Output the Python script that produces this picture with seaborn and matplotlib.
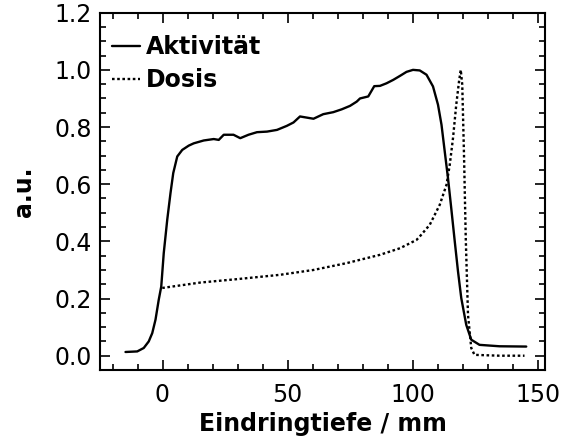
import matplotlib
matplotlib.use("Agg")
import matplotlib.pyplot as plt
import seaborn as sns
import pandas as pd
from matplotlib.ticker import MultipleLocator

# Aktivität (solid)
act_x = [-14.8, -10.1, -7.5, -5.5, -4.1, -2.8, -1.5, -0.5, 0.5, 1.9, 3.2, 4.3, 5.9, 7.9, 10.5,
         12.5, 16.5, 20.5, 22.5, 24.5, 28.4, 31.1, 34.4, 37.8, 41.8, 45.8, 49.7, 52.4, 55, 57.7,
         60.4, 64.3, 68.3, 71.7, 75, 77.7, 79, 82.3, 84.7, 87, 89.6, 92.3, 95, 97.6, 100.2,
         102.9, 105.6, 108.2, 110.2, 111.6, 112.9, 114.2, 115.5, 116.9, 118.2, 119.5, 121.5,
         123.5, 126.8, 134.8, 145.5]
act_y = [0.013, 0.015, 0.027, 0.05, 0.079, 0.126, 0.196, 0.242, 0.359, 0.476, 0.569, 0.639,
         0.697, 0.72, 0.735, 0.743, 0.753, 0.758, 0.755, 0.773, 0.773, 0.761, 0.773, 0.782,
         0.784, 0.79, 0.804, 0.816, 0.837, 0.833, 0.829, 0.845, 0.852, 0.862, 0.874, 0.889,
         0.90, 0.907, 0.943, 0.944, 0.953, 0.965, 0.979, 0.993, 1.0, 0.998, 0.983, 0.942,
         0.878, 0.808, 0.714, 0.621, 0.516, 0.40, 0.295, 0.202, 0.108, 0.056, 0.038, 0.033,
         0.032]

# Dosis (dotted)
dose_x = [-0.1, 15.2, 30, 47, 60.4, 73.7, 87, 95, 101.6, 102.9, 106.9, 110.9, 113.6, 114.9,
          116.2, 117.5, 118.6, 119.3, 119.9, 120.6, 121.3, 122.2, 123.5, 124.8, 134.8, 144.8]
dose_y = [0.237, 0.256, 0.268, 0.283, 0.30, 0.324, 0.353, 0.376, 0.405, 0.417, 0.458, 0.528,
          0.598, 0.668, 0.761, 0.878, 0.959, 1.0, 0.948, 0.703, 0.412, 0.143, 0.027, 0.003,
          0.0, 0.0]

xticks = [0, 50, 100, 150]
yticks = [0.0, 0.2, 0.4, 0.6, 0.8, 1.0, 1.2]

sns.set_style("ticks")
plt.rcParams['font.family'] = ['DejaVu Sans']
plt.rcParams['text.color'] = 'black'
plt.rcParams['axes.labelcolor'] = 'black'
plt.rcParams['xtick.color'] = 'black'
plt.rcParams['ytick.color'] = 'black'

fig = plt.figure(figsize=(5.63, 4.41), dpi=100)
ax = fig.add_axes([100/563, 1-370/441, 445/563, (370-12.7)/441])

df_a = pd.DataFrame({"x": act_x, "y": act_y})
df_d = pd.DataFrame({"x": dose_x, "y": dose_y})
sns.lineplot(data=df_a, x="x", y="y", ax=ax, color="black", lw=1.7, label="Aktivität",
             sort=False)
sns.lineplot(data=df_d, x="x", y="y", ax=ax, color="black", lw=1.7, label="Dosis",
             sort=False)
ax.lines[1].set_dashes((1.1, 1.1))

ax.set_xlim(-25, 153)
ax.set_ylim(-0.05, 1.2)
ax.set_xticks(xticks)
ax.set_yticks(yticks)
ax.set_xticklabels([str(t) for t in xticks])
ax.set_yticklabels([f"{t:.1f}" for t in yticks])
ax.xaxis.set_minor_locator(MultipleLocator(10))
ax.yaxis.set_minor_locator(MultipleLocator(0.05))
ax.tick_params(which="both", direction="in", top=True, right=True, color="black", width=1.2)
ax.tick_params(which="major", length=7, labelsize=17, pad=6, labelcolor="black")
ax.tick_params(axis="x", which="major", pad=9)
ax.tick_params(which="minor", length=4)
for s in ax.spines.values():
    s.set_linewidth(1.5)
    s.set_color("black")

ax.set_xlabel("Eindringtiefe / mm", fontsize=17, fontweight="bold", labelpad=4, color="black")
ax.set_ylabel("a.u.", fontsize=17, fontweight="bold", labelpad=13, color="black")

leg = ax.legend(loc="upper left", bbox_to_anchor=(0.027, 0.938), frameon=False,
                prop={"weight": "bold", "size": 17},
                handlelength=1.2, handletextpad=0.25, borderaxespad=0, labelspacing=0.4,
                borderpad=0)
for h in leg.get_lines():
    h.set_linewidth(1.7)
for t in leg.get_texts():
    t.set_color("black")
fig.savefig("out.png", dpi=100)
